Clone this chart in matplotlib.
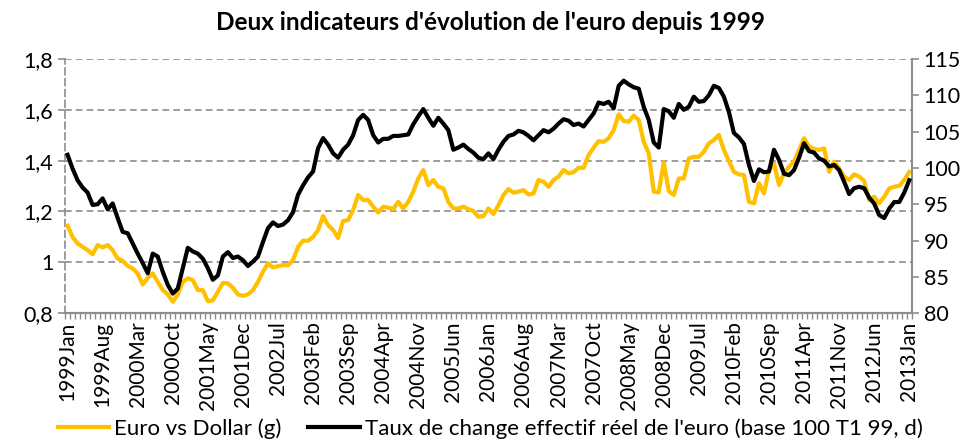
import numpy as np
import pandas as pd
import matplotlib
matplotlib.use("Agg")
import matplotlib.pyplot as plt
from matplotlib.ticker import FuncFormatter

plt.rcParams['font.family'] = ['Lato', 'DejaVu Sans']

# months 1999Jan .. 2013Jan
months = pd.date_range("1999-01-01", "2013-01-01", freq="MS")

tick_labels = ["1999Jan", "1999Aug", "2000Mar", "2000Oct", "2001May", "2001Dec",
               "2002Jul", "2003Feb", "2003Sep", "2004Apr", "2004Nov", "2005Jun",
               "2006Jan", "2006Aug", "2007Mar", "2007Oct", "2008May", "2008Dec",
               "2009Jul", "2010Feb", "2010Sep", "2011Apr", "2011Nov", "2012Jun",
               "2013Jan"]

euro_usd = [
    1.144, 1.100, 1.074, 1.061, 1.048, 1.032, 1.068, 1.059, 1.068, 1.048, 1.015, 1.006,
    0.986, 0.976, 0.956, 0.913, 0.939, 0.956, 0.923, 0.891, 0.874, 0.845, 0.874, 0.923,
    0.937, 0.930, 0.891, 0.891, 0.847, 0.851, 0.884, 0.919, 0.917, 0.900, 0.874, 0.868,
    0.874, 0.891, 0.923, 0.963, 0.996, 0.980, 0.985, 0.989, 0.989, 1.009, 1.061, 1.085,
    1.085, 1.100, 1.127, 1.182, 1.146, 1.127, 1.096, 1.163, 1.166, 1.206, 1.265, 1.245,
    1.245, 1.219, 1.196, 1.219, 1.215, 1.209, 1.238, 1.212, 1.238, 1.278, 1.330, 1.363,
    1.304, 1.324, 1.297, 1.291, 1.238, 1.212, 1.212, 1.219, 1.209, 1.202, 1.179, 1.182,
    1.212, 1.190, 1.225, 1.265, 1.288, 1.274, 1.278, 1.284, 1.267, 1.271, 1.324, 1.317,
    1.297, 1.324, 1.337, 1.363, 1.350, 1.355, 1.372, 1.372, 1.422, 1.451, 1.477, 1.474,
    1.488, 1.520, 1.582, 1.556, 1.553, 1.577, 1.560, 1.474, 1.429, 1.278, 1.275, 1.393,
    1.280, 1.265, 1.330, 1.330, 1.409, 1.415, 1.415, 1.435, 1.468, 1.481, 1.501, 1.442,
    1.398, 1.356, 1.346, 1.343, 1.238, 1.232, 1.311, 1.271, 1.363, 1.389, 1.304, 1.350,
    1.376, 1.396, 1.442, 1.488, 1.455, 1.446, 1.442, 1.448, 1.356, 1.396, 1.370, 1.337,
    1.324, 1.346, 1.337, 1.320, 1.245, 1.258, 1.232, 1.258, 1.291, 1.297, 1.301, 1.324,
    1.356]

tcer = [
    101.8, 99.9, 98.3, 97.3, 96.6, 94.9, 95.0, 95.8, 94.3, 95.1, 93.1, 91.2,
    91.0, 89.6, 88.2, 86.9, 85.5, 88.2, 87.8, 85.7, 83.9, 82.7, 83.4, 86.2,
    89.0, 88.5, 88.2, 87.5, 86.2, 84.6, 85.2, 87.8, 88.4, 87.6, 87.8, 87.3,
    86.5, 87.1, 87.8, 89.8, 91.7, 92.5, 92.0, 92.2, 92.8, 93.9, 96.3, 97.6,
    98.7, 99.5, 102.7, 104.1, 103.2, 102.0, 101.4, 102.5, 103.2, 104.5, 106.6, 107.3,
    106.6, 104.5, 103.5, 104.0, 104.0, 104.4, 104.4, 104.5, 104.6, 106.0, 107.1, 108.1,
    106.9, 105.8, 106.9, 106.1, 105.2, 102.5, 102.8, 103.2, 102.6, 102.1, 101.4, 101.2,
    102.0, 101.2, 102.5, 103.6, 104.4, 104.6, 105.1, 104.9, 104.4, 103.8, 104.5, 105.2,
    104.9, 105.4, 106.1, 106.7, 106.5, 105.9, 106.1, 105.7, 106.6, 107.5, 109.0, 108.8,
    109.1, 108.2, 111.3, 112.0, 111.5, 111.1, 110.9, 108.4, 106.6, 103.5, 102.8, 108.1,
    107.8, 106.9, 108.8, 108.0, 108.4, 109.8, 109.1, 109.2, 110.0, 111.3, 111.0, 109.8,
    107.7, 104.8, 104.2, 103.3, 100.4, 98.2, 99.8, 99.4, 99.5, 102.5, 101.1, 99.2,
    99.0, 99.7, 101.4, 103.4, 102.3, 102.1, 101.3, 101.0, 100.2, 100.4, 99.7, 98.1,
    96.4, 97.2, 97.4, 97.2, 95.9, 95.1, 93.5, 93.1, 94.4, 95.3, 95.3, 96.6,
    98.3]

x = np.arange(len(months))
grey = "#8c8c8c"

fig = plt.figure(figsize=(9.71, 4.43), dpi=100)
ax = fig.add_axes([0.067, 0.293, 0.872, 0.574])
ax2 = ax.twinx()

l1, = ax.plot(x, euro_usd, color="#FFC000", lw=3.0, label="Euro vs Dollar (g)", zorder=3)
l2, = ax2.plot(x, tcer, color="black", lw=3.0,
               label="Taux de change effectif réel de l'euro (base 100 T1 99, d)", zorder=4)

ax.set_xlim(-0.5, len(x) - 0.5)
ax.set_ylim(0.8, 1.8)
ax2.set_ylim(80, 115)
ax.set_yticks(np.arange(0.8, 1.81, 0.2))
ax2.set_yticks(np.arange(80, 116, 5))
ax.yaxis.set_major_formatter(FuncFormatter(lambda v, p: f"{v:g}".replace(".", ",")))

ax.grid(axis="y", color=grey, ls=(0, (4, 2.5)), lw=1.2)
ax.set_axisbelow(True)

# x ticks: labels every 7 months, small ticks on category boundaries
lab_pos = x[::7]
ax.set_xticks(lab_pos)
ax.set_xticklabels(tick_labels, rotation=90, fontsize=15)
ax.set_xticks(np.arange(-0.5, len(x), 1), minor=True)
ax.tick_params(axis="x", which="major", length=0, pad=6)
ax.tick_params(axis="x", which="minor", length=4, color=grey, width=1)

ax.tick_params(axis="y", labelsize=15.5, length=5, color=grey, width=1.2)
ax2.tick_params(axis="y", labelsize=15.5, length=5, color=grey, width=1.2)

for a in (ax, ax2):
    a.spines["top"].set_visible(False)
    for s in ("left", "right", "bottom"):
        a.spines[s].set_color(grey)
        a.spines[s].set_linewidth(1.5)
ax.spines["left"].set_linestyle((0, (4, 2.5)))
ax.spines["left"].set_linewidth(1.2)
ax2.spines["left"].set_visible(False)
ax.spines["right"].set_visible(False)

fig.text(0.505, 0.95, "Deux indicateurs d'évolution de l'euro depuis 1999",
         ha="center", va="center", fontsize=17.5, fontweight="bold")

fig.legend(handles=[l1, l2], loc="lower center", bbox_to_anchor=(0.505, -0.035),
           ncol=2, frameon=False, fontsize=16, handlelength=2.3,
           handletextpad=0.25, columnspacing=1.2)

fig.savefig("out.png", dpi=100)
